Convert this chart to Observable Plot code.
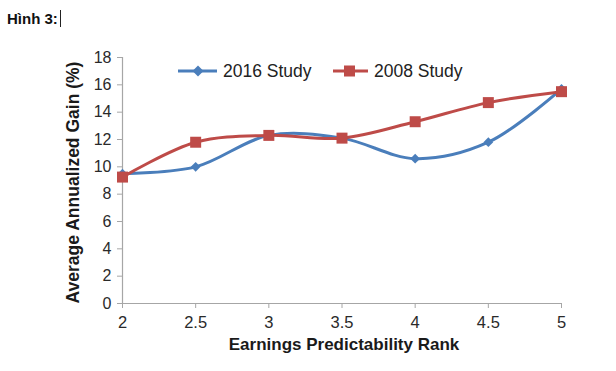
<!DOCTYPE html>
<html>
<head>
<meta charset="utf-8">
<script src="https://cdn.jsdelivr.net/npm/d3@7"></script>
<script src="https://cdn.jsdelivr.net/npm/@observablehq/plot@0.6"></script>
<style>
  html, body { margin: 0; padding: 0; background: #fff; }
  #wrap { position: relative; width: 616px; height: 371px; font-family: "Liberation Sans", Arial, Helvetica, sans-serif; }
  #title { position: absolute; left: 7px; top: 9px; font-size: 15px; font-weight: bold; color: #111; line-height: 20px; }
  #title .cursor { display: inline-block; width: 0; height: 17px; border-left: 1px solid #222; vertical-align: -3px; margin-left: 2px; }
  .leg { position: absolute; top: 60px; height: 22px; display: flex; align-items: center; font-size: 17.5px; color: #222; }
  .leg svg { margin-right: 5px; }
</style>
</head>
<body>
<div id="wrap">
  <div id="title">Hình 3:<span class="cursor"></span></div>
  <div id="chart"></div>
  <div class="leg" id="leg1" style="left:178px"></div>
  <div class="leg" id="leg2" style="left:333px"></div>
</div>
<script>
const ranks = [2, 2.5, 3, 3.5, 4, 4.5, 5];
const study2016 = [9.5, 10.0, 12.3, 12.1, 10.6, 11.8, 15.7];
const study2008 = [9.25, 11.8, 12.3, 12.1, 13.3, 14.7, 15.5];
const seriesNames = ["2016 Study", "2008 Study"];
const xTicks = [2, 2.5, 3, 3.5, 4, 4.5, 5];
const yTicks = [0, 2, 4, 6, 8, 10, 12, 14, 16, 18];
const xTitle = "Earnings Predictability Rank";
const yTitle = "Average Annualized Gain (%)";

const blue = "#4A7EBB";
const red = "#BE4B48";
const axisGray = "#A6A6A6";

const d2016 = ranks.map((x, i) => ({x, y: study2016[i]}));
const d2008 = ranks.map((x, i) => ({x, y: study2008[i]}));

const chart = Plot.plot({
  width: 616,
  height: 371,
  marginTop: 57,
  marginBottom: 68,
  marginLeft: 122,
  marginRight: 55,
  style: {fontFamily: "'Liberation Sans', Arial, Helvetica, sans-serif", background: "#fff"},
  x: {domain: [2, 5]},
  y: {domain: [0, 18]},
  marks: [
    Plot.ruleX([2], {stroke: axisGray, strokeWidth: 1.2}),
    Plot.ruleY([0], {stroke: axisGray, strokeWidth: 1.2}),
    Plot.axisY({ticks: yTicks, tickSize: 5, tickPadding: 6, fontSize: 16, stroke: axisGray, fill: "#2a2a2a", label: null}),
    Plot.axisX({ticks: xTicks, tickSize: 5, tickPadding: 8, fontSize: 16.5, stroke: axisGray, fill: "#2a2a2a", label: null, tickFormat: d => String(d)}),
    Plot.text([yTitle], {frameAnchor: "left", textAnchor: "middle", dx: -49, dy: 2, rotate: -90, fontSize: 17.5, fontWeight: "bold", fill: "#1a1a1a"}),
    Plot.text([xTitle], {frameAnchor: "bottom", dx: 2, dy: 46, fontSize: 17, fontWeight: "bold", fill: "#1a1a1a"}),
    Plot.line(d2016, {x: "x", y: "y", curve: "catmull-rom", stroke: blue, strokeWidth: 3}),
    Plot.dot(d2016, {x: "x", y: "y", symbol: "diamond2", r: 4.4, fill: blue, stroke: "none"}),
    Plot.line(d2008, {x: "x", y: "y", curve: "catmull-rom", stroke: red, strokeWidth: 3}),
    Plot.dot(d2008, {x: "x", y: "y", symbol: "square", r: 6.2, fill: red, stroke: "none"})
  ]
});
document.getElementById("chart").appendChild(chart);

function legendItem(el, name, color, kind) {
  const icon = kind === "diamond"
    ? `<svg width="40" height="22"><line x1="0" y1="11" x2="39" y2="11" stroke="${color}" stroke-width="3"/><path d="M20 5.5 L25.5 11 L20 16.5 L14.5 11 Z" fill="${color}"/></svg>`
    : `<svg width="36" height="22"><line x1="0" y1="11" x2="35" y2="11" stroke="${color}" stroke-width="3"/><rect x="11" y="5.5" width="11" height="11" fill="${color}"/></svg>`;
  el.innerHTML = icon + `<span>${name}</span>`;
}
legendItem(document.getElementById("leg1"), seriesNames[0], blue, "diamond");
legendItem(document.getElementById("leg2"), seriesNames[1], red, "square");
</script>
</body>
</html>
